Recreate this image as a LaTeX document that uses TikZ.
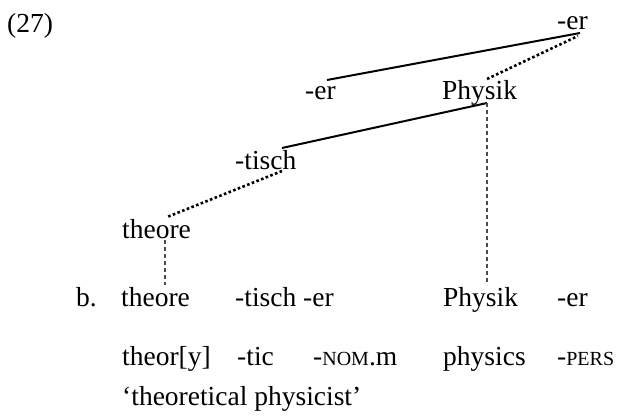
\documentclass[tikz,border=0pt]{standalone}
\usepackage{fontspec}
\setmainfont{Liberation Serif}
\newcommand{\smcp}[1]{{\fontsize{20}{24}\selectfont #1}}
\begin{document}
\begin{tikzpicture}[x=1pt,y=-1pt,
  lbl/.style={inner sep=0pt,anchor=base west,font=\fontsize{27.5}{33}\selectfont},
  solidln/.style={line width=2pt,black},
  dotln/.style={line width=2.6pt,black,dash pattern=on 2.6pt off 2.4pt},
  dashln/.style={line width=1.2pt,black!70,dash pattern=on 4pt off 3pt}]
\useasboundingbox (0,0) rectangle (623,417);
% tree labels
\node[lbl] (num) at (7,33) {(27)};
\node[lbl] (er0) at (557,30) {-er};
\node[lbl] (er1) at (305,100) {-er};
\node[lbl] (physik) at (442,100) {Physik};
\node[lbl] (tisch) at (235,169) {-tisch};
\node[lbl] (theore) at (122,238) {theore};
% example line
\node[lbl] (b) at (76,306) {b.};
\node[lbl] (theoreB) at (121,306) {theore};
\node[lbl] (tischB) at (235,306) {-tisch};
\node[lbl] (erB) at (303,306) {-er};
\node[lbl] (physikB) at (443,306) {Physik};
\node[lbl] (erB2) at (557,306) {-er};
% gloss line
\node[lbl] (g1) at (122,365) {theor[y]};
\node[lbl] (g2) at (237,365) {-tic};
\node[lbl] (g3) at (313,365) {-\smcp{NOM}.m};
\node[lbl] (g4) at (443,365) {physics};
\node[lbl] (g5) at (557,365) {-\smcp{PERS}};
\node[lbl] (tr) at (122,405) {‘theoretical physicist’};
% connector ends
\coordinate (c1a) at ([shift={(22,-20)}]er1.base west);
\coordinate (c1b) at ([shift={(23,3)}]er0.base west);
\coordinate (c2a) at ([shift={(45,-21)}]physik.base west);
\coordinate (c2b) at ([shift={(21,6)}]er0.base west);
\coordinate (c3a) at ([shift={(45,3)}]physik.base west);
\coordinate (c3b) at ([shift={(47,-21)}]tisch.base west);
\coordinate (c4a) at ([shift={(47,2)}]tisch.base west);
\coordinate (c4b) at ([shift={(45,-21)}]theore.base west);
\coordinate (c5a) at ([shift={(43,2)}]theore.base west);
\coordinate (c5b) at ([shift={(44,-21)}]theoreB.base west);
\coordinate (c6b) at ([shift={(44,-21)}]physikB.base west);
% connectors
\draw[solidln] (c1a) -- (c1b);
\draw[dotln] (c2a) -- (c2b);
\draw[solidln] (c3a) -- (c3b);
\draw[dotln] (c4a) -- (c4b);
\draw[dashln] (c5a) -- (c5b);
\draw[dashln] (c3a) -- (c6b);
\end{tikzpicture}
\end{document}
